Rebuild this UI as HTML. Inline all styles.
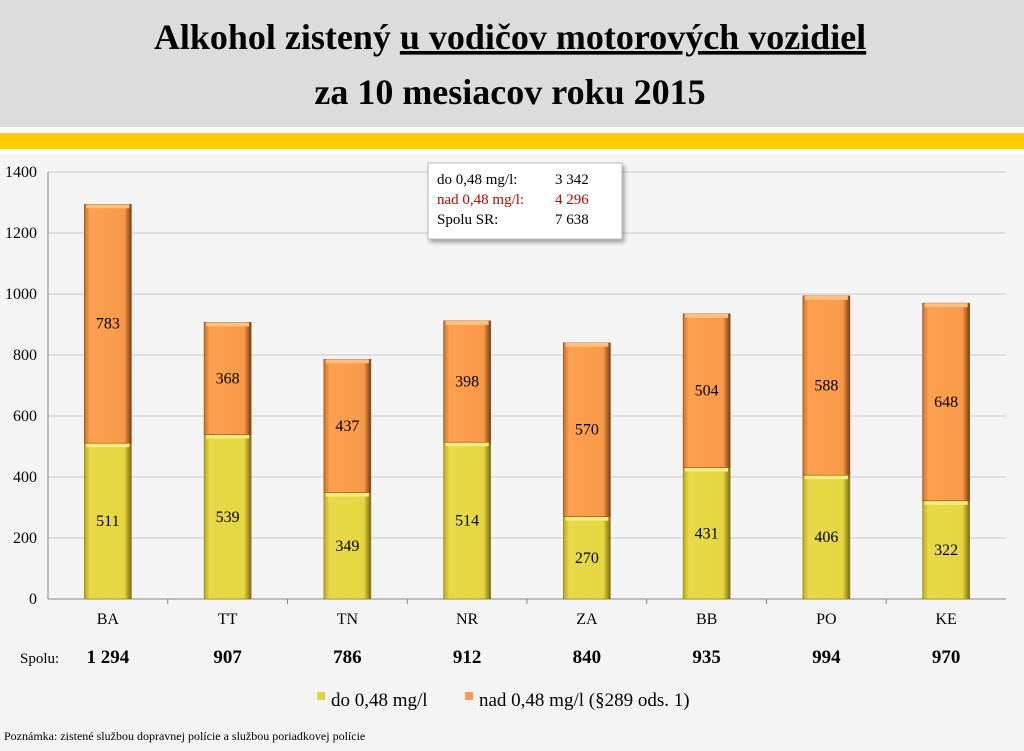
<!DOCTYPE html>
<html><head><meta charset="utf-8"><style>
body{margin:0;width:1024px;height:746px;overflow:hidden;background:#f4f4f4;font-family:"Liberation Serif",serif;}
text{font-family:"Liberation Serif",serif !important;}
</style></head><body>
<svg width="1024" height="746" xmlns="http://www.w3.org/2000/svg" style="font-family:'Liberation Serif',serif">
<defs>
<linearGradient id="y" x1="0" x2="1"><stop offset="0" stop-color="#b8a81c"/><stop offset="0.12" stop-color="#e8d94a"/><stop offset="0.85" stop-color="#e6d640"/><stop offset="1" stop-color="#7a6c10"/></linearGradient>
<linearGradient id="o" x1="0" x2="1"><stop offset="0" stop-color="#c9702a"/><stop offset="0.12" stop-color="#fca150"/><stop offset="0.85" stop-color="#f99a48"/><stop offset="1" stop-color="#7a3d10"/></linearGradient>
<filter id="sh"><feDropShadow dx="2" dy="3" stdDeviation="2" flood-opacity="0.35"/></filter>
</defs>
<rect x="0" y="0" width="1024" height="127" fill="#dcdcdc"/>
<rect x="0" y="127" width="1024" height="6" fill="#fff"/>
<rect x="0" y="133" width="1024" height="16" fill="#fecc00"/>
<rect x="0" y="149" width="1024" height="5" fill="#fff"/>
<text x="510" y="49" text-anchor="middle" font-size="36" font-weight="bold">Alkohol zistený <tspan text-decoration="underline">u vodičov motorových vozidiel</tspan></text>
<text x="510" y="104" text-anchor="middle" font-size="36" font-weight="bold">za 10 mesiacov roku 2015</text>
<g stroke="#c8c8c8" stroke-width="1">
<line x1="48" y1="172" x2="1006" y2="172"/><line x1="48" y1="233" x2="1006" y2="233"/><line x1="48" y1="294" x2="1006" y2="294"/><line x1="48" y1="355" x2="1006" y2="355"/><line x1="48" y1="416" x2="1006" y2="416"/><line x1="48" y1="477" x2="1006" y2="477"/><line x1="48" y1="538" x2="1006" y2="538"/>
</g>
<line x1="48" y1="172" x2="48" y2="599" stroke="#888"/>
<line x1="48" y1="599" x2="1006" y2="599" stroke="#888"/>
<g font-size="16" text-anchor="end">
<text x="37" y="177">1400</text><text x="37" y="238">1200</text><text x="37" y="299">1000</text><text x="37" y="360">800</text><text x="37" y="421">600</text><text x="37" y="482">400</text><text x="37" y="543">200</text><text x="37" y="604">0</text>
</g>
<g id="bars" font-size="16" text-anchor="middle"></g>
<g font-size="16" text-anchor="middle" id="cats"></g>
<text x="20" y="663" font-size="15">Spolu:</text>
<g filter="url(#sh)"><rect x="428" y="163" width="194" height="76" fill="#fff" stroke="#bbb"/></g>
<g font-size="15">
<text x="437" y="184">do 0,48 mg/l:</text><text x="555" y="184">3 342</text>
<text x="437" y="204" fill="#c00000">nad 0,48 mg/l:</text><text x="555" y="204" fill="#c00000">4 296</text>
<text x="437" y="224">Spolu SR:</text><text x="555" y="224">7 638</text>
</g>
<rect x="317" y="692" width="8" height="8" fill="#e0d040"/>
<text x="331" y="706" font-size="19">do 0,48 mg/l</text>
<rect x="465" y="692" width="8" height="8" fill="#f99a48"/>
<text x="479" y="706" font-size="19">nad 0,48 mg/l (§289 ods. 1)</text>
<text x="4" y="740" font-size="12">Poznámka: zistené službou dopravnej polície a službou poriadkovej polície</text>
<script>
var d=[["BA",511,783,"1 294"],["TT",539,368,"907"],["TN",349,437,"786"],["NR",514,398,"912"],["ZA",270,570,"840"],["BB",431,504,"935"],["PO",406,588,"994"],["KE",322,648,"970"]];
var ns="http://www.w3.org/2000/svg",g=document.getElementById("bars"),c=document.getElementById("cats");
function el(p,t,a,tx){var e=document.createElementNS(ns,t);for(var k in a)e.setAttribute(k,a[k]);if(tx)e.textContent=tx;p.appendChild(e);return e;}
var s=427/1400;
d.forEach(function(r,i){var cx=48+119.75*(i+0.5),x=cx-23.5,w=47;
var h1=r[1]*s,h2=r[2]*s,y1=599-h1,y2=y1-h2;
el(g,"rect",{x:x,y:y1,width:w,height:h1,fill:"url(#y)",stroke:"#8a7a10","stroke-width":0.6});
el(g,"rect",{x:x+2,y:y1,width:w-4,height:4,fill:"#f5ec80"});
el(g,"rect",{x:x,y:y2,width:w,height:h2,fill:"url(#o)",stroke:"#8a4a10","stroke-width":0.6});
el(g,"rect",{x:x+2,y:y2,width:w-4,height:4,fill:"#ffc080"});
el(g,"text",{x:cx,y:y1+h1/2+5},r[1]);el(g,"text",{x:cx,y:y2+h2/2+5},r[2]);
el(c,"text",{x:cx,y:624},r[0]);
el(c,"text",{x:cx,y:663,"font-size":"19","font-weight":"bold"},r[3]);
if(i>0)el(c,"line",{x1:48+119.75*i,y1:599,x2:48+119.75*i,y2:604,stroke:"#888"});
});
</script>
</svg>
</body></html>
